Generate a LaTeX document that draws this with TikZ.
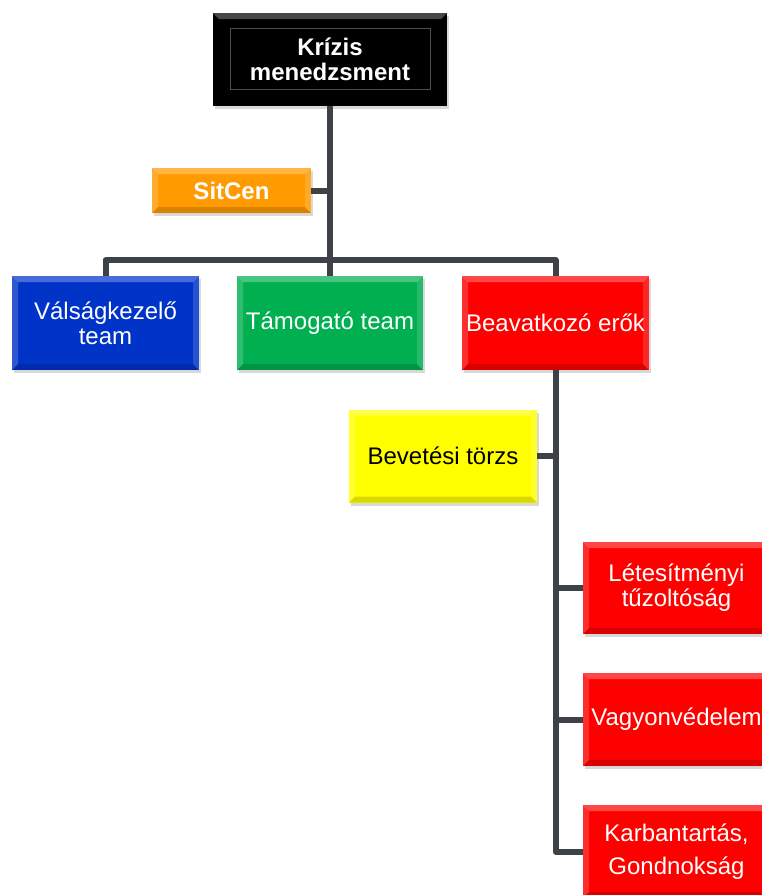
\documentclass[tikz,border=0pt]{standalone}
\usepackage{fontspec}
\setmainfont{Liberation Sans}
\usetikzlibrary{shadows}
\definecolor{linec}{HTML}{3C4248}
\definecolor{cblack}{HTML}{000000}
\definecolor{corange}{HTML}{FF9A00}
\definecolor{cblue}{HTML}{0033C8}
\definecolor{cgreen}{HTML}{00B050}
\definecolor{cred}{HTML}{FF0000}
\definecolor{cyellow}{HTML}{FFFF00}
\tikzset{
  bevel/.style={path picture={
    \fill[white,opacity=.28] (path picture bounding box.north west) -- (path picture bounding box.north east)
      -- ([shift={(-6pt,-6pt)}]path picture bounding box.north east) -- ([shift={(6pt,-6pt)}]path picture bounding box.north west) -- cycle;
    \fill[white,opacity=.18] (path picture bounding box.north west) -- ([shift={(6pt,-6pt)}]path picture bounding box.north west)
      -- ([shift={(6pt,6pt)}]path picture bounding box.south west) -- (path picture bounding box.south west) -- cycle;
    \fill[black,opacity=.15] (path picture bounding box.south west) -- (path picture bounding box.south east)
      -- ([shift={(-6pt,6pt)}]path picture bounding box.south east) -- ([shift={(6pt,6pt)}]path picture bounding box.south west) -- cycle;
    \fill[white,opacity=.15] (path picture bounding box.north east) -- (path picture bounding box.south east)
      -- ([shift={(-6pt,6pt)}]path picture bounding box.south east) -- ([shift={(-6pt,-6pt)}]path picture bounding box.north east) -- cycle;
  }},
  innerframe/.style={path picture={
    \fill[white,opacity=.28] (path picture bounding box.north west) -- (path picture bounding box.north east)
      -- ([shift={(-6pt,-6pt)}]path picture bounding box.north east) -- ([shift={(6pt,-6pt)}]path picture bounding box.north west) -- cycle;
    \draw[white,opacity=.3,line width=1pt] ([shift={(17pt,-15pt)}]path picture bounding box.north west) rectangle ([shift={(-17pt,17pt)}]path picture bounding box.south east);
  }},
  box/.style={rectangle, inner sep=0pt, align=center, text=white, bevel,
    font=\fontsize{24}{25}\selectfont,
    drop shadow={opacity=0.3, shadow xshift=2pt, shadow yshift=-3pt}},
  boldtext/.style={font=\bfseries\fontsize{24}{25}\selectfont},
  conn/.style={draw=linec, line width=6pt, line join=round},
}
\begin{document}
\begin{tikzpicture}[x=1pt,y=-1pt]
\useasboundingbox (0,0) rectangle (762,895);
\coordinate (bus) at (330,260);

\node[box, innerframe, fill=cblack, boldtext, minimum width=234, minimum height=93] (top) at (330,59.5) {Krízis\\menedzsment};
\node[box, fill=corange, boldtext, minimum width=159, minimum height=45] (sitcen) at (231.5,190.5) {SitCen};
\node[box, fill=cblue, minimum width=187, minimum height=94] (val) at (105.5,323) {Válságkezelő\\team};
\node[box, fill=cgreen, minimum width=186, minimum height=94] (tam) at (330,323) {Támogató team};
\node[box, fill=cred, minimum width=187, minimum height=94] (bea) at (555.5,323) {Beavatkozó erők};
\node[box, fill=cyellow, text=black, minimum width=188, minimum height=93] (bev) at (443,456) {Bevetési törzs};

\begin{scope}
\clip (0,0) rectangle (762,895);
\node[box, fill=cred, minimum width=187, minimum height=92] (let) at (676.5,588) {Létesítményi\\tűzoltóság};
\node[box, fill=cred, minimum width=187, minimum height=93] (vag) at (676.5,719.5) {Vagyonvédelem};
\node[box, fill=cred, minimum width=187, minimum height=93, font=\fontsize{24}{33}\selectfont] (kar) at (676.5,851.5) {Karbantartás,\\Gondnokság};
\end{scope}

\draw[conn] (top.south) -- (bus);
\draw[conn] (sitcen.east) -- (sitcen.east -| top.south);
\draw[conn] (val.north) |- (bus);
\draw[conn] (bea.north) |- (bus);
\draw[conn] (bus) -- (tam.north);
\draw[conn] (bea.south) |- (kar.west);
\draw[conn] (bev.east) -- (bev.east -| bea.south);
\draw[conn] (let.west) -- (let.west -| bea.south);
\draw[conn] (vag.west) -- (vag.west -| bea.south);
\end{tikzpicture}
\end{document}
